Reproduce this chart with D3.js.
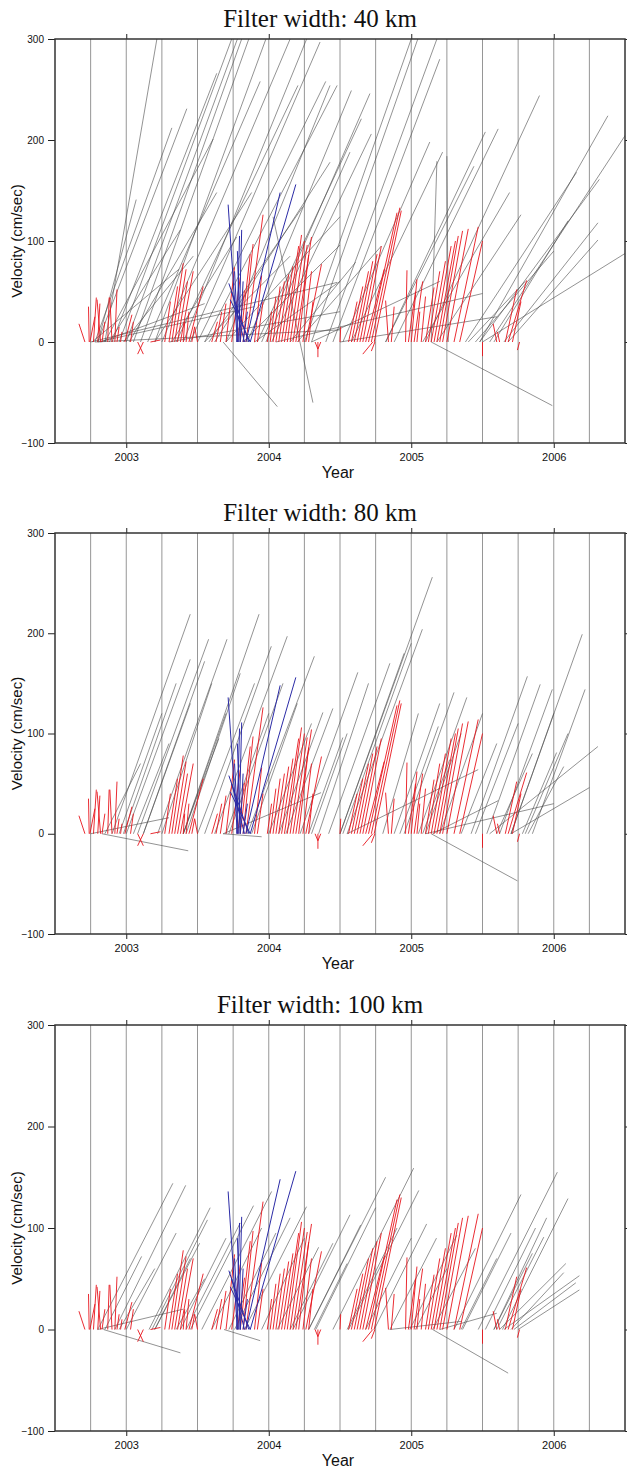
<!DOCTYPE html>
<html>
<head>
<meta charset="utf-8">
<script src="https://cdn.jsdelivr.net/npm/d3@7"></script>
<style>
  body { margin: 0; background: #fff; }
  .axis text { font-family: "Liberation Sans", Arial, sans-serif; font-size: 10px; fill: #111; }
  .axis line { stroke: #222; stroke-width: 1; }
  .axis path { display: none; }
</style>
</head>
<body>
<div id="chart"></div>
<script>
// Velocity segments: [start year, end year, end velocity], each starts at velocity 0
var redSegs = [
  [2002.71, 2002.668, 18], [2002.74, 2002.735, 35], [2002.745, 2002.78, 25], [2002.77, 2002.79, 44],
  [2002.82, 2002.795, 42], [2002.80, 2002.815, 38], [2002.83, 2002.85, 20], [2002.87, 2002.88, 44],
  [2002.90, 2002.885, 44], [2002.92, 2002.935, 52], [2002.935, 2002.95, 15], [2002.96, 2002.97, 10],
  [2002.99, 2003.04, 27], [2003.03, 2003.05, 20], [2003.08, 2003.12, -12], [2003.12, 2003.08, -12],
  [2003.17, 2003.24, 2],
  [2003.27, 2003.31, 40], [2003.30, 2003.36, 55], [2003.32, 2003.40, 78], [2003.34, 2003.42, 72],
  [2003.36, 2003.43, 60], [2003.38, 2003.47, 70], [2003.42, 2003.44, 30], [2003.44, 2003.54, 55],
  [2003.46, 2003.48, 15], [2003.50, 2003.48, 15], [2003.40, 2003.41, 20],
  [2003.60, 2003.64, 20], [2003.63, 2003.67, 30], [2003.66, 2003.70, 38], [2003.70, 2003.76, 74],
  [2003.74, 2003.80, 64], [2003.78, 2003.83, 51], [2003.80, 2003.87, 87], [2003.82, 2003.89, 97],
  [2003.84, 2003.96, 126], [2003.90, 2003.95, 66], [2003.92, 2003.96, 40],
  [2003.99, 2004.02, 30], [2004.01, 2004.05, 45], [2004.03, 2004.08, 55], [2004.05, 2004.11, 60],
  [2004.07, 2004.14, 67], [2004.09, 2004.17, 75], [2004.11, 2004.21, 95], [2004.13, 2004.23, 106],
  [2004.15, 2004.25, 100], [2004.17, 2004.27, 96], [2004.19, 2004.30, 104], [2004.21, 2004.28, 86],
  [2004.24, 2004.30, 70], [2004.26, 2004.37, 77], [2004.28, 2004.31, 40],
  [2004.325, 2004.345, -7], [2004.365, 2004.345, -7], [2004.345, 2004.345, -15],
  [2004.50, 2004.505, 15], [2004.56, 2004.62, 40], [2004.58, 2004.66, 55], [2004.60, 2004.70, 70],
  [2004.62, 2004.73, 80], [2004.64, 2004.76, 87], [2004.66, 2004.79, 95], [2004.68, 2004.81, 72],
  [2004.70, 2004.90, 128], [2004.72, 2004.92, 133], [2004.74, 2004.93, 130],
  [2004.73, 2004.66, -12], [2004.745, 2004.72, -9],
  [2004.84, 2004.82, 41], [2004.86, 2004.88, 35], [2004.96, 2004.97, 71], [2004.98, 2005.03, 50],
  [2005.00, 2005.04, 62], [2005.02, 2005.08, 60], [2005.04, 2005.06, 30], [2005.07, 2005.10, 45],
  [2005.10, 2005.16, 54], [2005.12, 2005.20, 70], [2005.14, 2005.24, 80], [2005.16, 2005.28, 95],
  [2005.18, 2005.31, 100], [2005.20, 2005.33, 105], [2005.22, 2005.36, 110], [2005.25, 2005.40, 112],
  [2005.30, 2005.47, 114], [2005.34, 2005.50, 100], [2005.50, 2005.50, -14],
  [2005.60, 2005.575, 18], [2005.62, 2005.605, 10], [2005.66, 2005.74, 52], [2005.68, 2005.81, 61],
  [2005.71, 2005.77, 40], [2005.76, 2005.745, -8]
];

var blueSegs = [
  [2003.78, 2003.715, 136], [2003.79, 2003.81, 111], [2003.775, 2003.795, 105], [2003.80, 2003.78, 90],
  [2003.785, 2003.76, 70], [2003.86, 2003.72, 58], [2003.87, 2003.73, 42], [2003.83, 2003.74, 50],
  [2003.80, 2003.82, 60], [2003.84, 2004.08, 148], [2003.87, 2004.19, 156], [2003.82, 2003.85, 30]
];

var gray40 = [
  [2002.75, 2004.48, 59], [2002.78, 2004.50, 12], [2002.80, 2003.90, 35], [2002.82, 2003.55, 38],
  [2002.76, 2003.37, 72], [2003.30, 2004.50, 30],
  [2002.80, 2003.07, 141], [2002.85, 2003.215, 300], [2002.78, 2003.32, 212], [2002.80, 2003.425, 231],
  [2002.85, 2003.61, 201], [2002.90, 2003.635, 266], [2002.95, 2003.74, 300], [2003.00, 2003.78, 300],
  [2003.05, 2003.81, 300], [2003.10, 2003.86, 300], [2003.20, 2003.88, 148], [2003.15, 2003.94, 258],
  [2003.20, 2003.98, 300], [2003.25, 2004.15, 300], [2003.35, 2004.205, 254], [2003.40, 2004.266, 300],
  [2003.45, 2004.36, 297], [2003.50, 2004.40, 258], [2003.55, 2004.48, 254],
  [2002.88, 2003.38, 111], [2002.98, 2003.47, 85], [2003.02, 2003.635, 148], [2003.32, 2003.775, 104],
  [2003.55, 2004.15, 85], [2003.58, 2004.24, 134], [2003.62, 2004.43, 178], [2003.70, 2004.50, 124],
  [2003.82, 2004.50, 96], [2003.90, 2004.50, 60], [2003.68, 2004.06, -64],
  [2003.70, 2004.43, 254], [2003.85, 2004.58, 249], [2003.95, 2004.71, 246], [2003.92, 2004.65, 221],
  [2004.02, 2004.72, 206], [2003.98, 2004.57, 188], [2004.15, 2004.61, 79], [2004.20, 2004.79, 95],
  [2004.25, 2005.00, 300], [2004.30, 2005.046, 300], [2004.40, 2005.18, 300], [2004.45, 2005.20, 280],
  [2004.52, 2005.13, 198], [2004.58, 2005.22, 188], [2005.14, 2005.18, 179], [2005.26, 2005.25, 184],
  [2004.82, 2005.52, 208], [2004.88, 2005.61, 211], [2005.10, 2005.90, 244], [2005.48, 2006.38, 224],
  [2005.55, 2006.55, 215], [2005.65, 2006.31, 118], [2005.68, 2006.31, 101], [2005.50, 2006.55, 92],
  [2005.18, 2005.77, 126], [2005.08, 2005.69, 148], [2005.38, 2006.16, 168], [2005.48, 2006.32, 161],
  [2004.82, 2005.44, 174], [2004.05, 2005.50, 48], [2004.30, 2005.20, 60], [2004.50, 2005.60, 25],
  [2005.40, 2005.80, 60], [2005.45, 2006.00, 90], [2005.58, 2006.10, 120], [2005.14, 2005.99, -63]
];
// one segment that does not start at zero: [year0, v0, year1, v1]
var cross40 = [[2004.03, 124, 2004.31, -60]];

var gray80 = [
  [2002.90, 2003.449, 219], [2003.08, 2003.578, 194], [2003.22, 2003.707, 194], [2003.00, 2003.449, 174],
  [2003.12, 2003.55, 172], [2003.40, 2003.932, 219], [2003.55, 2004.018, 187], [2003.62, 2004.13, 197],
  [2003.85, 2004.32, 177], [2004.07, 2004.38, 121], [2004.28, 2004.52, 96], [2004.22, 2004.625, 161],
  [2004.50, 2005.148, 256], [2004.55, 2005.078, 204], [2004.52, 2005.00, 190], [2005.05, 2005.39, 136],
  [2004.95, 2005.30, 141], [2004.92, 2005.19, 107], [2005.08, 2005.27, 74], [2004.55, 2005.47, 64],
  [2005.42, 2005.815, 157], [2005.53, 2005.905, 149], [2005.62, 2005.99, 144], [2005.70, 2006.20, 199],
  [2005.85, 2006.22, 144], [2005.55, 2006.31, 87], [2005.70, 2006.25, 46], [2005.78, 2006.02, 81],
  [2005.82, 2006.07, 67], [2005.15, 2005.61, 33],
  [2002.95, 2003.25, 120], [2002.98, 2003.35, 150], [2003.05, 2003.30, 90], [2003.12, 2003.45, 130],
  [2003.25, 2003.60, 150], [2003.40, 2003.70, 120], [2003.42, 2003.80, 160], [2002.85, 2003.10, 70],
  [2003.40, 2003.65, 95], [2003.50, 2003.90, 150], [2003.70, 2004.00, 120], [2003.72, 2004.10, 150],
  [2003.88, 2004.20, 130], [2004.00, 2004.30, 110], [2004.12, 2004.45, 125], [2004.30, 2004.55, 100],
  [2004.35, 2004.70, 150], [2004.42, 2004.85, 170], [2004.50, 2004.95, 180], [2004.80, 2005.05, 120],
  [2004.88, 2005.20, 130], [2005.10, 2005.35, 100], [2005.20, 2005.50, 120], [2005.35, 2005.60, 90],
  [2005.45, 2005.75, 110], [2005.60, 2005.85, 80], [2005.70, 2006.00, 120], [2005.80, 2006.10, 100],
  [2002.75, 2003.30, 16], [2003.68, 2004.367, 41], [2003.68, 2003.95, -3], [2005.10, 2006.00, 30],
  [2002.83, 2003.435, -17], [2005.14, 2005.745, -47]
];

var gray100 = [
  [2002.80, 2003.327, 144], [2002.92, 2003.417, 142], [2003.16, 2003.589, 120], [2003.18, 2003.57, 108],
  [2003.20, 2003.515, 85], [2003.00, 2003.35, 95], [2002.85, 2003.108, 72], [2003.53, 2004.02, 136],
  [2003.45, 2003.893, 122], [2003.83, 2004.265, 121], [2004.06, 2004.35, 81], [2004.28, 2004.645, 103],
  [2004.17, 2004.57, 113], [2004.28, 2004.82, 150], [2004.45, 2005.017, 159], [2004.56, 2005.053, 137],
  [2004.74, 2005.108, 104], [2004.85, 2005.177, 90], [2004.99, 2005.32, 93], [2005.30, 2005.77, 133],
  [2005.52, 2005.872, 100], [2005.60, 2005.93, 91], [2005.47, 2006.025, 155], [2005.64, 2006.10, 129],
  [2005.62, 2006.085, 65], [2005.70, 2006.07, 56], [2005.65, 2006.18, 53], [2005.72, 2006.155, 46],
  [2005.75, 2006.18, 39],
  [2002.95, 2003.20, 60], [2003.20, 2003.45, 70], [2003.35, 2003.55, 50], [2003.38, 2003.70, 90],
  [2003.42, 2003.80, 105], [2003.60, 2003.95, 100], [2003.72, 2004.05, 95], [2003.76, 2004.15, 110],
  [2003.95, 2004.25, 90], [2004.15, 2004.45, 85], [2004.32, 2004.55, 65], [2004.33, 2004.75, 120],
  [2004.55, 2004.90, 100], [2004.68, 2005.00, 90], [2005.03, 2005.25, 60], [2005.15, 2005.45, 80],
  [2005.35, 2005.60, 70], [2005.36, 2005.70, 95], [2005.58, 2005.85, 75], [2005.58, 2005.95, 110],
  [2004.85, 2005.35, 8], [2005.20, 2005.60, 16], [2002.80, 2003.40, 20],
  [2002.84, 2003.38, -23], [2003.686, 2003.94, -11], [2005.15, 2005.68, -43]
];

var filterWidths = [40, 80, 100];
var grayByWidth = [gray40, gray80, gray100];
var crossByWidth = [cross40, [], []];
var yTicks = [300, 200, 100, 0, -100];
var yearTicks = [2003, 2004, 2005, 2006];
var gridYears = [2002.75, 2003, 2003.25, 2003.5, 2003.75, 2004, 2004.25, 2004.5, 2004.75,
                 2005, 2005.25, 2005.5, 2005.75, 2006, 2006.25];

var svg = d3.select("#chart").append("svg")
  .attr("width", 627)
  .attr("height", 1469);

var panelTops = [39, 533, 1025],
    panelHeights = [404, 401, 406],
    left = 55, right = 625;

filterWidths.forEach(function(fw, i) {
  var top = panelTops[i], h = panelHeights[i];

  var x = d3.scaleLinear().domain([2002.5, 2006.5]).range([left, right]),
      y = d3.scaleLinear().domain([-100, 300]).range([top + h, top]);

  var g = svg.append("g");

  g.append("clipPath").attr("id", "clip" + i)
    .append("rect")
      .attr("x", left).attr("y", top)
      .attr("width", right - left).attr("height", h);

  // title
  g.append("text")
    .attr("x", 320).attr("y", top - 12)
    .attr("text-anchor", "middle")
    .attr("font-family", "'Liberation Serif', 'Times New Roman', serif")
    .attr("font-size", "25px")
    .attr("fill", "#111")
    .text("Filter width: " + fw + " km");

  // quarter-year grid
  g.selectAll(".grid")
    .data(gridYears)
    .enter()
    .append("line")
      .attr("x1", function(d) { return x(d); })
      .attr("x2", function(d) { return x(d); })
      .attr("y1", top).attr("y2", top + h)
      .attr("stroke", "#8a8a8a")
      .attr("stroke-width", 0.9);

  var plot = g.append("g").attr("clip-path", "url(#clip" + i + ")");

  function drawSegs(data, color, width, opacity) {
    plot.append("g").selectAll("line")
      .data(data)
      .enter()
      .append("line")
        .attr("x1", function(d) { return x(d[0]); })
        .attr("y1", y(0))
        .attr("x2", function(d) { return x(d[1]); })
        .attr("y2", function(d) { return y(d[2]); })
        .attr("stroke", color)
        .attr("stroke-width", width)
        .attr("stroke-opacity", opacity);
  }

  drawSegs(grayByWidth[i], "#4a4a4a", 0.8, 0.75);

  plot.append("g").selectAll("line")
    .data(crossByWidth[i])
    .enter()
    .append("line")
      .attr("x1", function(d) { return x(d[0]); })
      .attr("y1", function(d) { return y(d[1]); })
      .attr("x2", function(d) { return x(d[2]); })
      .attr("y2", function(d) { return y(d[3]); })
      .attr("stroke", "#4a4a4a")
      .attr("stroke-width", 0.8)
      .attr("stroke-opacity", 0.75);

  drawSegs(redSegs, "#e8141c", 0.9, 1);
  drawSegs(blueSegs, "#2b2ba6", 1, 1);

  // axes
  g.append("g").attr("class", "axis")
    .attr("transform", "translate(" + left + ",0)")
    .call(d3.axisLeft(y).tickValues(yTicks).tickSize(7).tickPadding(4));

  g.append("g").attr("class", "axis")
    .attr("transform", "translate(" + right + ",0)")
    .call(d3.axisRight(y).tickValues(yTicks).tickSize(7).tickFormat(""));

  g.append("g").attr("class", "axis")
    .attr("transform", "translate(0," + top + ")")
    .call(d3.axisTop(x).tickValues(yearTicks).tickSize(5).tickFormat(""));

  g.append("g").attr("class", "axis")
    .attr("transform", "translate(0," + (top + h) + ")")
    .call(d3.axisBottom(x).tickValues(yearTicks).tickSize(5).tickPadding(5).tickFormat(d3.format("d")))
    .selectAll("text").style("font-size", "11px");

  // frame
  g.append("rect")
    .attr("x", left).attr("y", top)
    .attr("width", right - left).attr("height", h)
    .attr("fill", "none")
    .attr("stroke", "#333")
    .attr("stroke-width", 1.5);

  g.append("text")
    .attr("x", 338).attr("y", top + h + 35)
    .attr("text-anchor", "middle")
    .attr("font-family", "'Liberation Sans', Arial, sans-serif")
    .attr("font-size", "16px")
    .attr("fill", "#111")
    .text("Year");

  g.append("text")
    .attr("transform", "translate(22," + (top + h / 2) + ") rotate(-90)")
    .attr("text-anchor", "middle")
    .attr("font-family", "'Liberation Sans', Arial, sans-serif")
    .attr("font-size", "15px")
    .attr("fill", "#111")
    .text("Velocity (cm/sec)");
});
</script>
</body>
</html>
